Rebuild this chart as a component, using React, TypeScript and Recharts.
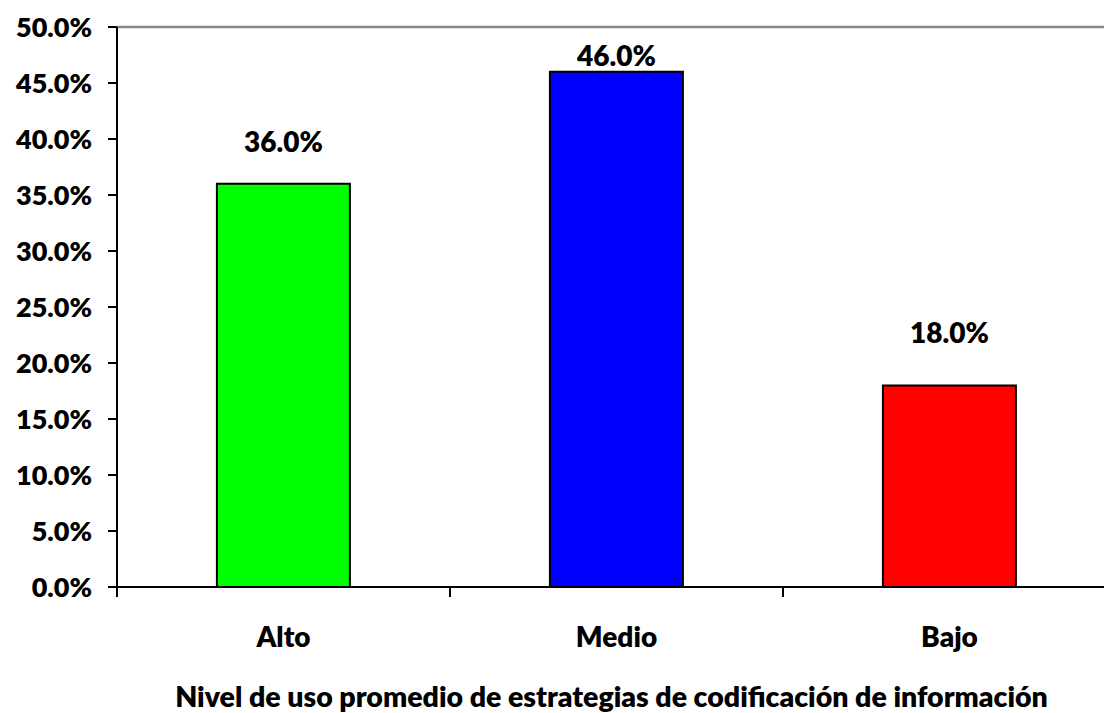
import React from "react"
import { BarChart, Bar, XAxis, YAxis, Cell, LabelList, ReferenceLine } from "recharts"

const categories = ["Alto", "Medio", "Bajo"]
const percentages = [36.0, 46.0, 18.0]
const barColors = ["#00FF00", "#0000FF", "#FF0000"]
const yTicks = [0, 5, 10, 15, 20, 25, 30, 35, 40, 45, 50]
const xTitle = "Nivel de uso promedio de estrategias de codificación de información"

// labels were placed by hand in the original, so each sits at its own height above the bar
const labelLift = [32, 6, 42]

const data = categories.map((name, i) => ({ name, value: percentages[i] }))

const FONT = "Lato, 'Open Sans', sans-serif"

const BarValueLabel = (props: any) => {
  const { x, y, width, index, value } = props
  return (
    <text
      x={x + width / 2}
      y={y - labelLift[index]}
      textAnchor="middle"
      fontFamily={FONT}
      fontWeight={800}
      fontSize={28}
      fill="#000"
    >
      {Number(value).toFixed(1)}%
    </text>
  )
}

// category label plus a tick mark on the left border of its band (Excel style)
const CategoryTick = (props: any) => {
  const { x, y, payload, index, visibleTicksCount } = props
  const half = payload?.offset ?? 0
  const isLast = index === visibleTicksCount - 1
  return (
    <g>
      <line x1={x - half} x2={x - half} y1={y} y2={y + 10} stroke="#000" strokeWidth={2} />
      {isLast && <line x1={x + half} x2={x + half} y1={y} y2={y + 10} stroke="#000" strokeWidth={2} />}
      <text
        x={x}
        y={y + 60}
        textAnchor="middle"
        fontFamily={FONT}
        fontWeight={800}
        fontSize={28}
        fill="#000"
      >
        {payload.value}
      </text>
    </g>
  )
}

export default function App() {
  return (
    <div style={{ position: "absolute", left: 0, top: 0, width: 1104, height: 713, overflow: "hidden", background: "#fff" }}>
      <BarChart
        width={1130}
        height={713}
        data={data}
        barCategoryGap="30%"
        margin={{ top: 27, right: 14, left: 0, bottom: 0 }}
      >
        <ReferenceLine y={50} stroke="#888888" strokeWidth={2.5} ifOverflow="extendDomain" />
        <XAxis
          dataKey="name"
          height={126}
          axisLine={{ stroke: "#000", strokeWidth: 2 }}
          tickLine={false}
          tickSize={0}
          tickMargin={0}
          interval={0}
          tick={<CategoryTick />}
          label={{
            value: xTitle,
            position: "insideBottom",
            offset: 6,
            dx: -5,
            fontFamily: FONT,
            fontWeight: 800,
            fontSize: 28.5,
            fill: "#000",
          }}
        />
        <YAxis
          width={117}
          domain={[0, 50]}
          ticks={yTicks}
          interval={0}
          tickFormatter={(v: number) => `${v.toFixed(1)}%`}
          axisLine={{ stroke: "#000", strokeWidth: 2 }}
          tickLine={{ stroke: "#000", strokeWidth: 2 }}
          tickSize={9}
          tick={{ fontFamily: FONT, fontWeight: 800, fontSize: 27, fill: "#000", dx: -14 }}
        />
        <Bar dataKey="value" stroke="#000" strokeWidth={2} isAnimationActive={false}>
          {data.map((d, i) => (
            <Cell key={d.name} fill={barColors[i]} />
          ))}
          <LabelList dataKey="value" content={<BarValueLabel />} />
        </Bar>
      </BarChart>
    </div>
  )
}
